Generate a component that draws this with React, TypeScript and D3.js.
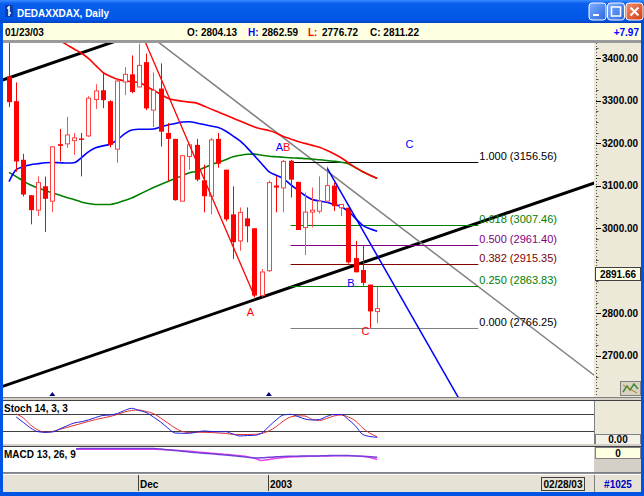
import * as React from 'react';
import * as d3 from 'd3';

// trading days shown (Nov 6 2002 .. Jan 23 2003)
const dates = [
  '2002-11-06', '2002-11-07', '2002-11-08', '2002-11-11', '2002-11-12', '2002-11-13', '2002-11-14', '2002-11-15',
  '2002-11-18', '2002-11-19', '2002-11-20', '2002-11-21', '2002-11-22', '2002-11-25', '2002-11-26', '2002-11-27',
  '2002-11-28', '2002-11-29', '2002-12-02', '2002-12-03', '2002-12-04', '2002-12-05', '2002-12-06', '2002-12-09',
  '2002-12-10', '2002-12-11', '2002-12-12', '2002-12-13', '2002-12-16', '2002-12-17', '2002-12-18', '2002-12-19',
  '2002-12-20', '2002-12-23', '2002-12-27', '2002-12-30', '2003-01-02', '2003-01-03', '2003-01-06', '2003-01-07',
  '2003-01-08', '2003-01-09', '2003-01-10', '2003-01-13', '2003-01-14', '2003-01-15', '2003-01-16', '2003-01-17',
  '2003-01-20', '2003-01-21', '2003-01-22', '2003-01-23',
];

const opens = [
  3357.3, 3298.9, 3161.1, 3077.8, 3042.7, 3098.8, 3063.8, 3197.8, 3198.5, 3206.2, 3211.4, 3217.2, 3302.9, 3324.6,
  3298.9, 3186.1, 3344.0, 3362.0, 3332.3, 3390.7, 3277.9, 3328.6, 3224.2, 3210.2, 3063.8, 3168.9, 3196.2, 3112.8,
  3075.4, 3210.2, 3137.8, 3032.7, 2970.3, 3023.4, 3000.0, 2841.9, 2900.3, 3100.4, 3095.0, 3158.8, 3109.1, 3001.6,
  3038.1, 3040.4, 3063.8, 3100.4, 3048.3, 3048.3, 2929.9, 2901.9, 2867.6, 2804.13,
];
const highs = [
  3450.0, 3343.0, 3175.2, 3077.8, 3122.1, 3121.4, 3193.8, 3233.5, 3262.3, 3224.2, 3224.2, 3310.6, 3338.6, 3367.4,
  3301.0, 3350.3, 3379.0, 3406.4, 3434.4, 3411.0, 3366.7, 3387.7, 3247.6, 3210.2, 3173.0, 3198.5, 3210.2, 3149.5,
  3212.5, 3224.2, 3137.8, 3098.8, 3049.0, 3049.0, 3000.0, 2904.2, 3112.0, 3122.1, 3161.1, 3161.1, 3109.1, 3084.1,
  3095.8, 3122.1, 3145.5, 3107.4, 3056.0, 3048.3, 2970.3, 2958.7, 2867.6, 2862.59,
];
const lows = [
  3284.9, 3133.1, 3074.7, 3009.3, 3028.7, 2991.4, 3038.1, 3157.2, 3189.2, 3172.8, 3122.1, 3214.9, 3280.2, 3282.6,
  3190.0, 3154.1, 3312.9, 3317.6, 3331.6, 3277.9, 3238.2, 3192.2, 3110.5, 3065.0, 3063.8, 3137.8, 3110.5, 3037.4,
  3032.7, 3142.5, 3016.3, 2927.6, 2947.0, 2967.3, 2837.7, 2838.9, 2897.0, 3037.4, 3037.4, 3072.4, 2996.0, 2936.9,
  3002.3, 3035.0, 3060.7, 3040.4, 3028.7, 2917.0, 2896.5, 2865.2, 2766.25, 2776.72,
];
const closes = [
  3296.6, 3157.2, 3079.4, 3042.7, 3107.4, 3069.4, 3191.5, 3193.8, 3219.5, 3212.5, 3209.0, 3305.9, 3323.0, 3301.3,
  3196.2, 3346.3, 3362.0, 3320.6, 3383.0, 3281.9, 3324.6, 3227.2, 3210.2, 3066.1, 3170.5, 3196.2, 3114.4, 3075.4,
  3207.8, 3151.8, 3021.0, 2967.3, 3037.4, 3004.7, 2841.9, 2897.2, 3107.4, 3095.8, 3157.2, 3114.4, 2996.0, 3038.1,
  3042.7, 3063.8, 3100.4, 3052.1, 3056.0, 2919.9, 2896.5, 2871.6, 2804.5, 2811.22,
];

// moving averages
const maRed: (number | null)[] = [
  null, null, null, null, null, null, null, 3441.4, 3432.0, 3421.5, 3412.2, 3399.4, 3383.0, 3366.7, 3357.3, 3350.3,
  3346.8, 3344.5, 3343.3, 3334.0, 3324.6, 3315.3, 3305.9, 3301.3, 3298.9, 3296.6, 3294.3, 3287.3, 3280.2, 3273.2,
  3266.2, 3259.2, 3252.2, 3245.2, 3238.2, 3233.5, 3230.0, 3224.2, 3216.0, 3210.2, 3204.3, 3199.7, 3195.0, 3190.3,
  3183.3, 3175.2, 3165.8, 3154.1, 3142.5, 3133.1, 3124.9, 3117.9,
];
const maBlue = [
  3109.8, 3137.8, 3144.8, 3149.5, 3151.8, 3154.1, 3154.8, 3154.1, 3153.4, 3154.1, 3165.8, 3179.8, 3189.2, 3193.8,
  3197.8, 3207.8, 3221.9, 3231.2, 3232.8, 3232.8, 3233.5, 3238.2, 3242.9, 3246.4, 3249.9, 3250.6, 3247.6, 3244.0,
  3240.5, 3237.0, 3228.9, 3217.2, 3205.5, 3189.2, 3170.5, 3151.8, 3133.1, 3124.9, 3116.8, 3102.8, 3089.9, 3077.1,
  3067.7, 3064.2, 3061.4, 3056.0, 3051.4, 3039.7, 3023.4, 3007.0, 2998.8, 2993.0,
];
const maGreen = [
  3131.5, 3121.4, 3110.9, 3101.6, 3094.6, 3088.7, 3083.4, 3078.2, 3072.4, 3067.7, 3061.9, 3058.4, 3056.0, 3056.0,
  3056.0, 3059.6, 3065.4, 3071.2, 3079.4, 3087.6, 3095.8, 3102.8, 3109.8, 3116.8, 3123.8, 3130.8, 3134.3, 3142.5,
  3149.5, 3155.3, 3161.1, 3168.1, 3171.6, 3174.0, 3174.5, 3171.6, 3169.3, 3168.1, 3167.0, 3165.8, 3165.1, 3163.9,
  3162.8, 3161.1, 3159.5, 3157.6, 3155.3, 3151.8, 3142.5, 3133.1, 3124.9, 3116.8,
];

// Stochastics 14,3,3
const stochK: (number | null)[] = [
  null, 63, 50, 36.9, 28.1, 26.7, 27.4, 34.5, 41.7, 48.8, 51.7, 56, 61.9, 66.7, 67.9, 71.4, 78.6, 83.8, 78.6, 73.8,
  63.1, 51.2, 36.9, 25, 24.3, 24.3, 27.4, 29.8, 28.6, 27.9, 28.1, 22.6, 17.9, 19, 19.5, 25, 40.5, 56, 67.9, 69.5,
  64.3, 58.3, 56, 57.1, 64.3, 69, 69, 57.1, 41.7, 21.4, 16.7, 14.8,
];
const stochD: (number | null)[] = [
  null, 70.2, 60.7, 44, 32.1, 26.7, 28.6, 33.3, 38.1, 42.9, 47.6, 52.4, 57.1, 60.7, 64.3, 69, 75, 78.6, 79.8, 76.2,
  71.4, 60.7, 48.8, 36.9, 28.6, 26.2, 26.7, 26.7, 26.2, 25, 23.8, 21.9, 21.4, 21.4, 21.9, 23.8, 29.8, 40, 53.6, 63.1,
  66, 65.5, 57.1, 54.8, 59.5, 65.5, 67.9, 63.1, 53.6, 36.9, 24.3, 16.2,
];
const stochLevels = [70, 30];

// MACD 13,26,9
const macdLine = [
  92, 92, 92, 92, 92, 92, 92, 92, 92, 92, 94, 94, 94, 94, 94, 94, 94, 94, 94, 94, 94, 92, 88.8, 86, 83.2, 80, 77.6,
  75.2, 72.8, 70.4, 68, 65.2, 62.4, 59.2, 56, 56.8, 58.8, 60.8, 62, 62.8, 63.2, 64, 64, 64.4, 65.2, 66, 66, 65.6,
  64.4, 62.8, 60.8, 58.8,
];
const macdSignal = [
  90.8, 90.8, 90.8, 90.8, 90.8, 90.8, 90.8, 90.8, 90.8, 90.8, 90.8, 90.8, 90.8, 90.8, 90.8, 90.8, 90.8, 90.8, 90.8,
  90.8, 90.8, 90.4, 89, 87.5, 85.5, 83, 80.5, 78, 75.5, 73, 70.5, 68, 65, 61.5, 55, 46, 50, 55, 58, 60, 61, 62, 63,
  63.5, 64, 64.5, 65, 65, 64.5, 62, 58, 50,
];

// drawn objects, anchored by bar index and price
const channelLow = [{ i: 0, p: 2633.4 }, { i: 80, p: 3100.4 }];
const channelHigh = [{ i: 0, p: 3353.9 }, { i: 80, p: 3820.9 }];
const grayLine = [{ i: 20.9, p: 3435.0 }, { i: 81, p: 2655.1 }];
const redLeg = [{ i: 18.95, p: 3435.0 }, { i: 34, p: 2840.0 }];
const blueLeg = [{ i: 44.09, p: 3141.1 }, { i: 62.17, p: 2604.0 }];

const fibRatios = ['1.000', '0.618', '0.500', '0.382', '0.250', '0.000'];
const fibPrices = [3156.56, 3007.46, 2961.4, 2915.35, 2863.83, 2766.25];
const fibSpan = [39, 65];

const waveLabels = [
  { t: 'A', i: 33.45, p: 2794.5 },
  { t: 'AB', i: 37.95, p: 3182.5 },
  { t: 'B', i: 47.37, p: 2862.7 },
  { t: 'C', i: 49.38, p: 2749.8 },
  { t: 'C', i: 55.46, p: 3188.1 },
];
const markerBars = [6, 36];

const priceTicks = [2700, 2800, 2900, 3000, 3100, 3200, 3300, 3400];
const cursorPrice = 2891.66;
const change = '+7.97';
const barCount = '#1025';
const rangeEnd = '02/28/03';

const FONT = "'Liberation Sans', Arial, sans-serif";
const RED = '#ff0000';

export default function App() {
  const plot = { left: 3, right: 594, top: 43, bottom: 397 };
  const x = d3.scaleLinear().domain([0, 51]).range([9, 377.2]);
  const y = d3.scaleLinear().domain([2603.3, 3435.7]).range([plot.bottom, plot.top]);
  const ys = d3.scaleLinear().domain([0, 100]).range([443.5, 401.5]);
  const ym = d3.scaleLinear().domain([0, 100]).range([472, 447]);

  const parse = d3.timeParse('%Y-%m-%d');
  const fmtDate = d3.timeFormat('%m/%d/%y');
  const parsed = dates.map(d => parse(d) as Date);
  const last = closes.length - 1;

  const series = (vals: (number | null)[], scale: d3.ScaleLinear<number, number>) =>
    d3.line<number | null>()
      .defined(v => v != null)
      .x((_, i) => x(i))
      .y(v => scale(v as number))
      .curve(d3.curveMonotoneX)(vals) || '';

  const extend = (pts: { i: number; p: number }[], i0: number, i1: number) => {
    const [a, b] = pts;
    const k = (b.p - a.p) / (b.i - a.i);
    return { x1: x(i0), y1: y(a.p + k * (i0 - a.i)), x2: x(i1), y2: y(a.p + k * (i1 - a.i)) };
  };

  const fibColor: Record<string, string> = {
    '1.000': '#000000', '0.618': '#008000', '0.500': '#800080',
    '0.382': '#800000', '0.250': '#008000', '0.000': '#000000',
  };
  const fibLine: Record<string, string> = { ...fibColor, '0.000': '#808080' };

  // month separators on the date bar
  const monthStarts = parsed
    .map((d, i) => ({ d, i }))
    .filter(({ d, i }) => i > 0 && d.getMonth() !== parsed[i - 1].getMonth());
  const monthLabel = (d: Date) => (d.getMonth() === 0 ? d3.timeFormat('%Y')(d) : d3.timeFormat('%b')(d));

  const minorTicks = d3.range(2625, 3435, 25);
  // the cursor price box hides any label it sits on
  const shownTicks = priceTicks.filter(t => Math.abs(y(t) - y(cursorPrice)) > 12);

  const lastO = opens[last], lastH = highs[last], lastL = lows[last], lastC = closes[last];

  return (
    <div style={{ position: 'fixed', left: 0, top: 0 }}>
      <svg width={644} height={496} style={{ display: 'block' }} fontFamily={FONT}>
        <defs>
          <linearGradient id="title" x1="0" y1="0" x2="0" y2="1">
            <stop offset="0" stopColor="#3d8dff" />
            <stop offset="0.15" stopColor="#0a60ec" />
            <stop offset="0.85" stopColor="#0055e5" />
            <stop offset="1" stopColor="#0042c0" />
          </linearGradient>
          <linearGradient id="btn" x1="0" y1="0" x2="1" y2="1">
            <stop offset="0" stopColor="#7fb0ff" />
            <stop offset="1" stopColor="#2a66e0" />
          </linearGradient>
          <linearGradient id="btnx" x1="0" y1="0" x2="1" y2="1">
            <stop offset="0" stopColor="#f09070" />
            <stop offset="1" stopColor="#d23a12" />
          </linearGradient>
          <clipPath id="plot">
            <rect x={plot.left} y={plot.top} width={plot.right - plot.left} height={plot.bottom - plot.top} />
          </clipPath>
          <clipPath id="stoch">
            <rect x={3} y={401} width={591} height={43} />
          </clipPath>
        </defs>

        {/* window frame */}
        <rect x={0} y={0} width={644} height={496} fill="#0054e3" />
        <rect x={0} y={0} width={644} height={23} fill="url(#title)" />
        <g transform="translate(5,4)">
          <rect x={0} y={1} width={8} height={12} fill="#0a3fb0" />
          <path d="M4 2 V12 M2 4 H4 M4 9 H6" stroke="#ffffff" strokeWidth={1.5} />
        </g>
        <text x={17} y={17} fill="#ffffff" fontSize={11.5} fontWeight="bold" textLength={92} lengthAdjust="spacingAndGlyphs">
          DEDAXXDAX, Daily
        </text>
        <rect x={589} y={3} width={17} height={17} rx={3} fill="url(#btn)" stroke="#ffffff" />
        <rect x={593} y={14} width={6} height={2} fill="#ffffff" />
        <rect x={607.5} y={3} width={17} height={17} rx={3} fill="url(#btn)" stroke="#ffffff" />
        <rect x={611.5} y={7} width={9} height={9} fill="none" stroke="#ffffff" strokeWidth={1.5} />
        <rect x={626} y={3} width={17} height={17} rx={3} fill="url(#btnx)" stroke="#ffffff" />
        <path d="M630.5 7.5 L638.5 15.5 M638.5 7.5 L630.5 15.5" stroke="#ffffff" strokeWidth={2} />

        {/* info bar */}
        <rect x={3} y={23} width={638} height={17} fill="#ffffe1" />
        <rect x={3} y={40} width={638} height={3} fill="#9a9a9a" />
        <g fontSize={10} fontWeight="bold">
          <text x={5} y={36}>{fmtDate(parsed[last])}</text>
          <text x={187} y={36}>O: {lastO.toFixed(2)}</text>
          <text x={248} y={36} fill="#0000ff">H:</text>
          <text x={262} y={36}>{lastH.toFixed(2)}</text>
          <text x={308} y={36} fill="#ff0000">L:</text>
          <text x={322} y={36}>{lastL.toFixed(2)}</text>
          <text x={370} y={36}>C: {lastC.toFixed(2)}</text>
          <text x={639} y={36} fill="#0000ff" textAnchor="end">{change}</text>
        </g>

        {/* main price panel */}
        <rect x={plot.left} y={plot.top} width={plot.right - plot.left} height={plot.bottom - plot.top} fill="#ffffff" />
        <g clipPath="url(#plot)">
          {[channelLow, channelHigh].map((c, k) => {
            const s = extend(c, -2, 82);
            return <line key={k} {...s} stroke="#000000" strokeWidth={3} />;
          })}
          <line {...extend(grayLine, 18, 82)} stroke="#808080" strokeWidth={1.5} />

          {fibPrices.map((p, k) => (
            <line key={k} x1={x(fibSpan[0])} x2={x(fibSpan[1])} y1={Math.round(y(p)) + 0.5} y2={Math.round(y(p)) + 0.5}
              stroke={fibLine[fibRatios[k]]} strokeWidth={1} />
          ))}

          <path d={series(maGreen, y)} fill="none" stroke="#008000" strokeWidth={1.6} />
          <path d={series(maBlue, y)} fill="none" stroke="#0000ff" strokeWidth={1.6} />
          <path d={series(maRed, y)} fill="none" stroke="#ff0000" strokeWidth={1.6} />

          {dates.map((d, i) => {
            const cx = Math.round(x(i)) + 0.5;
            const up = closes[i] >= opens[i];
            const top = y(Math.max(opens[i], closes[i]));
            const bot = y(Math.min(opens[i], closes[i]));
            return (
              <g key={d}>
                <line x1={cx} x2={cx} y1={y(highs[i])} y2={y(lows[i])} stroke={up ? '#ff5050' : RED} strokeWidth={1} />
                {up ? (
                  <rect x={cx - 2} y={top} width={4} height={Math.max(1, bot - top)} fill="#ffffff" stroke="#ff4040" strokeWidth={1} />
                ) : (
                  <rect x={cx - 2.5} y={top} width={5} height={Math.max(1.5, bot - top)} fill={RED} />
                )}
              </g>
            );
          })}

          <line {...extend(redLeg, 18.5, 34)} stroke="#ff0000" strokeWidth={1.3} />
          <line {...extend(blueLeg, 44.09, 63)} stroke="#0000ff" strokeWidth={1.5} />

          {markerBars.map(i => (
            <path key={i} d={`M${x(i) - 3},${plot.bottom - 1} L${x(i) + 3},${plot.bottom - 1} L${x(i)},${plot.bottom - 5} Z`} fill="#000080" />
          ))}
        </g>

        {fibPrices.map((p, k) => (
          <text key={k} x={x(fibSpan[1]) + 1} y={y(p) - 2} fontSize={11} fill={fibColor[fibRatios[k]]}>
            {fibRatios[k]} ({p.toFixed(2)})
          </text>
        ))}

        {waveLabels.map((w, k) => (
          <text key={k} x={x(w.i)} y={y(w.p)} fontSize={11} textAnchor="middle" fill={w.t === 'A' || (w.t === 'C' && w.p < 3000) ? '#ff0000' : '#0000ff'}>
            {w.t === 'AB' ? (<><tspan fill="#0000ff">A</tspan><tspan fill="#ff0000">B</tspan></>) : w.t}
          </text>
        ))}

        {/* right price axis */}
        <rect x={594} y={43} width={47} height={354} fill="#ece9d8" />
        <line x1={596.5} x2={596.5} y1={43} y2={397} stroke="#555555" strokeDasharray="1,2" />
        {minorTicks.map(t => (
          <line key={t} x1={596} x2={598.5} y1={Math.round(y(t)) + 0.5} y2={Math.round(y(t)) + 0.5} stroke="#555555" />
        ))}
        {shownTicks.map(t => (
          <g key={t}>
            <line x1={596} x2={601} y1={Math.round(y(t)) + 0.5} y2={Math.round(y(t)) + 0.5} stroke="#000000" />
            <text x={602} y={y(t) + 3.5} fontSize={10} fontWeight="bold">{d3.format('.2f')(t)}</text>
          </g>
        ))}
        <rect x={595.5} y={Math.round(y(cursorPrice)) - 6.5} width={45} height={13} fill="#ffffe8" stroke="#404040" />
        <text x={618} y={y(cursorPrice) + 4} fontSize={10} fontWeight="bold" textAnchor="middle">{cursorPrice.toFixed(2)}</text>
        <g transform="translate(620,381)">
          <rect x={0.5} y={0.5} width={20} height={14} fill="#d8d4c0" stroke="#808080" />
          <path d="M3 11 L7 5 L10 9 L14 3 L18 8" fill="none" stroke="#3a8a3a" strokeWidth={1.5} />
          <path d="M3 4 L17 12" stroke="#a08020" strokeWidth={1} />
        </g>

        {/* separators */}
        <rect x={3} y={397} width={638} height={4} fill="#d4d0c8" />
        <line x1={3} x2={641} y1={397.5} y2={397.5} stroke="#808080" />
        <line x1={3} x2={641} y1={400.5} y2={400.5} stroke="#404040" />

        {/* stochastics panel */}
        <rect x={3} y={401} width={591} height={43} fill="#ffffff" />
        <g clipPath="url(#stoch)">
          {stochLevels.map(l => (
            <line key={l} x1={3} x2={594} y1={Math.round(ys(l)) + 0.5} y2={Math.round(ys(l)) + 0.5} stroke="#404040" />
          ))}
          <path d={series(stochD, ys)} fill="none" stroke="#e03030" strokeWidth={1} />
          <path d={series(stochK, ys)} fill="none" stroke="#2020e0" strokeWidth={1} />
        </g>
        <rect x={3} y={402} width={67} height={11} fill="#ffffff" />
        <text x={4} y={412} fontSize={10} fontWeight="bold">Stoch 14, 3, 3</text>
        <rect x={594} y={401} width={47} height={43} fill="#ece9d8" />
        <line x1={594.5} x2={594.5} y1={401} y2={444} stroke="#808080" />
        <rect x={595.5} y={434.5} width={45} height={10} fill="#f4f2e8" stroke="#808080" />
        <text x={618} y={443} fontSize={10} fontWeight="bold" textAnchor="middle">0.00</text>

        <rect x={3} y={444} width={638} height={3} fill="#d4d0c8" />
        <line x1={3} x2={641} y1={446.5} y2={446.5} stroke="#404040" />

        {/* MACD panel */}
        <rect x={3} y={447} width={591} height={25.5} fill="#ffffff" />
        <path d={series(macdSignal, ym)} fill="none" stroke="#ee44ee" strokeWidth={1.5} />
        <path d={series(macdLine, ym)} fill="none" stroke="#7040d8" strokeWidth={1.5} />
        <rect x={3} y={448} width={73} height={11} fill="#ffffff" />
        <text x={4} y={458} fontSize={10} fontWeight="bold">MACD 13, 26, 9</text>
        <rect x={594} y={447} width={47} height={25.5} fill="#d4d0c8" />
        <rect x={595.5} y={447.5} width={45} height={11} fill="#ffffe1" stroke="#808080" />
        <text x={618} y={457} fontSize={10} fontWeight="bold" textAnchor="middle">0</text>

        {/* date bar */}
        <rect x={3} y={472.5} width={638} height={19.5} fill="#e6e3d6" />
        <line x1={3} x2={641} y1={473} y2={473} stroke="#404040" />
        <line x1={3} x2={641} y1={474.5} y2={474.5} stroke="#ffffff" />
        {monthStarts.map(({ d, i }) => (
          <g key={i}>
            <line x1={Math.round(x(i)) - 0.5} x2={Math.round(x(i)) - 0.5} y1={475} y2={491} stroke="#404040" />
            <text x={x(i) + 1} y={488} fontSize={10} fontWeight="bold">{monthLabel(d)}</text>
          </g>
        ))}
        <rect x={541.5} y={477.5} width={43} height={13} fill="#e6e3d6" stroke="#404040" />
        <text x={563} y={488} fontSize={10} fontWeight="bold" textAnchor="middle">{rangeEnd}</text>
        <line x1={594.5} x2={594.5} y1={475} y2={492} stroke="#808080" />
        <text x={618} y={488} fontSize={10} fontWeight="bold" textAnchor="middle" fill="#0000c0">{barCount}</text>
      </svg>
    </div>
  );
}
